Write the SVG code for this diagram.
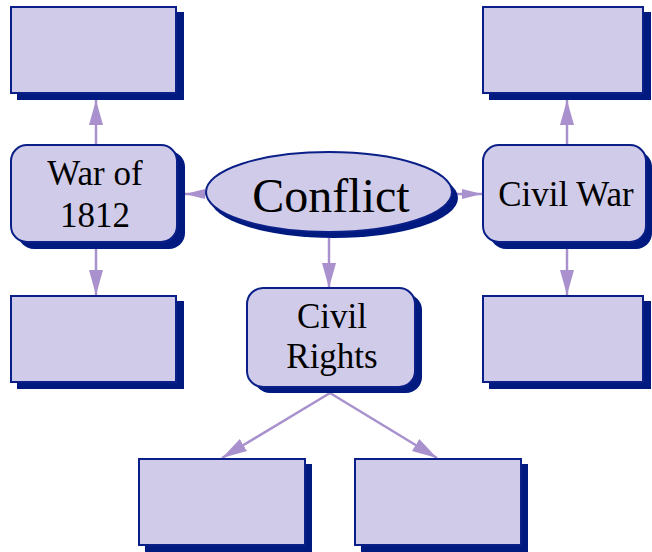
<svg xmlns="http://www.w3.org/2000/svg" width="652" height="552" viewBox="0 0 652 552">
<defs>
<style>
.box{fill:#cfcbe8;stroke:#0a1f87;stroke-width:2}
.sh{fill:#001a80}
.con{stroke:#a891cd;stroke-width:2.5;fill:none}
.head{fill:#a891cd}
.t{font-family:"Liberation Serif","Times New Roman",serif;font-size:35px;fill:#000;text-anchor:middle}
.big{font-size:48px}
</style>
<marker id="ah" markerUnits="userSpaceOnUse" markerWidth="26" markerHeight="16" refX="25" refY="7" orient="auto" viewBox="0 0 26 14">
<path d="M0,0 L25,7 L0,14 Z" class="head"/>
</marker>
<marker id="ahs" markerUnits="userSpaceOnUse" markerWidth="21" markerHeight="12" refX="20" refY="5" orient="auto" viewBox="0 0 21 10">
<path d="M0,0 L20,5 L0,10 Z" class="head"/>
</marker>
</defs>
<rect width="652" height="552" fill="#fff"/>

<g id="connectors">
<line class="con" x1="96" y1="144" x2="96" y2="100" marker-end="url(#ah)"/>
<line class="con" x1="96" y1="249" x2="96" y2="295" marker-end="url(#ah)"/>
<line class="con" x1="567" y1="145" x2="567" y2="100" marker-end="url(#ah)"/>
<line class="con" x1="567" y1="249" x2="567" y2="295" marker-end="url(#ah)"/>
<line class="con" x1="206" y1="194" x2="185" y2="194" marker-end="url(#ahs)"/>
<line class="con" x1="456" y1="194" x2="482" y2="194" marker-end="url(#ahs)"/>
<line class="con" x1="329" y1="238" x2="329" y2="288" marker-end="url(#ah)"/>
<line class="con" x1="330" y1="393" x2="222" y2="458" marker-end="url(#ah)"/>
<line class="con" x1="330" y1="393" x2="437" y2="458" marker-end="url(#ah)"/>
</g>

<g id="box-top-left">
<rect class="sh" x="17" y="12" width="167" height="88"/>
<rect class="box" x="11" y="7" width="165" height="86"/>
</g>
<g id="box-top-right">
<rect class="sh" x="489" y="12" width="162" height="88"/>
<rect class="box" x="483" y="7" width="160" height="86"/>
</g>
<g id="box-mid-left">
<rect class="sh" x="17" y="301" width="167" height="88"/>
<rect class="box" x="11" y="296" width="165" height="86"/>
</g>
<g id="box-mid-right">
<rect class="sh" x="489" y="301" width="162" height="88"/>
<rect class="box" x="483" y="296" width="160" height="86"/>
</g>
<g id="box-bottom-left">
<rect class="sh" x="145" y="464" width="167" height="88"/>
<rect class="box" x="139" y="459" width="166" height="86"/>
</g>
<g id="box-bottom-right">
<rect class="sh" x="361" y="464" width="167" height="88"/>
<rect class="box" x="355" y="459" width="166" height="86"/>
</g>

<g id="war-of-1812">
<rect class="sh" x="18" y="151" width="167" height="98" rx="16"/>
<rect class="box" x="11" y="145" width="166" height="97" rx="16"/>
<text class="t" x="95" y="185">War of</text>
<text class="t" x="95" y="227">1812</text>
</g>

<g id="conflict">
<ellipse class="sh" cx="334" cy="198" rx="124" ry="40"/>
<ellipse class="box" cx="329" cy="192" rx="123" ry="40"/>
<text class="t big" x="331" y="212">Conflict</text>
</g>

<g id="civil-war">
<rect class="sh" x="490" y="151" width="162" height="98" rx="16"/>
<rect class="box" x="483" y="145" width="163" height="97" rx="16"/>
<text class="t" x="566" y="206">Civil War</text>
</g>

<g id="civil-rights">
<rect class="sh" x="254" y="294" width="168" height="99" rx="16"/>
<rect class="box" x="247" y="288" width="168" height="99" rx="16"/>
<text class="t" x="332" y="328">Civil</text>
<text class="t" x="332" y="368">Rights</text>
</g>
</svg>
